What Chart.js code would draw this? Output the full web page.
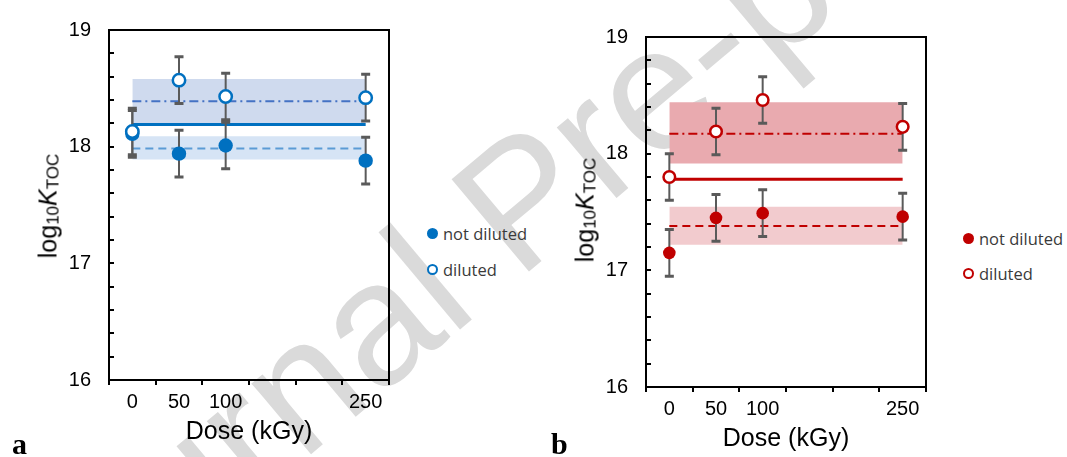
<!DOCTYPE html>
<html>
<head>
<meta charset="utf-8">
<script src="https://cdn.jsdelivr.net/npm/chart.js@4.4.1/dist/chart.umd.min.js"></script>
<style>
  html, body { margin: 0; padding: 0; background: #fff; }
  body { width: 1067px; height: 457px; position: relative; overflow: hidden; font-family: 'Liberation Sans', Arial, sans-serif; }
  .watermark { position: absolute; left: 520px; top: 200px; transform: translate(-50%, -50%) rotate(-40deg); font-size: 175px; color: #dadada; white-space: nowrap; z-index: 0; }
  canvas { position: absolute; z-index: 1; }
  #chartA { left: 0; top: 0; }
  #chartB { left: 537px; top: 7px; }
  .ytitle { position: absolute; z-index: 2; font-size: 25px; white-space: nowrap; color: #000; transform: translate(-50%, -50%) rotate(-90deg); }
  .ytitle sub { font-size: 17px; position: relative; top: 2px; vertical-align: baseline; }
  .legend-row { position: absolute; z-index: 2; height: 20px; display: flex; align-items: center; white-space: nowrap; font-family: 'Open Sans', sans-serif; font-size: 16.5px; color: #3a3a3a; }
  .dot { width: 11px; height: 11px; border-radius: 50%; box-sizing: border-box; margin-right: 5px; }
  .panel { position: absolute; z-index: 2; font-family: 'Liberation Serif', serif; font-weight: bold; font-size: 30px; line-height: 30px; }
</style>
</head>
<body>
<div class="watermark">Journal Pre-proof</div>
<canvas id="chartA" width="420" height="457"></canvas>
<canvas id="chartB" width="420" height="457"></canvas>
<div class="ytitle" style="left:48px; top:206px;">log<sub>10</sub><i>K</i><sub>TOC</sub></div>
<div class="ytitle" style="left:585px; top:210px;">log<sub>10</sub><i>K</i><sub>TOC</sub></div>
<div id="legendA"></div>
<div id="legendB"></div>
<div class="panel" style="left:12px; top:429px;">a</div>
<div class="panel" style="left:551px; top:429px;">b</div>
<script>
const doses = [0, 50, 100, 250];
const xTickMarks = [-25, 25, 75, 125, 175, 225, 275];
const yLabelValues = [16, 17, 18, 19];
const seriesNames = ['not diluted', 'diluted'];

// panel a
const aNotDiluted = [18.11, 17.94, 18.01, 17.88];
const aNotDilutedErr = [0.2, 0.2, 0.2, 0.2];
const aDiluted = [18.13, 18.57, 18.43, 18.42];
const aDilutedErr = [0.2, 0.2, 0.2, 0.2];
const aMeanAll = 18.19;
const aMeanNotDiluted = 17.985;
const aBandNotDiluted = [17.89, 18.09];
const aMeanDiluted = 18.39;
const aBandDiluted = [18.20, 18.58];

// panel b
const bNotDiluted = [17.15, 17.45, 17.49, 17.46];
const bNotDilutedErr = [0.2, 0.2, 0.2, 0.2];
const bDiluted = [17.80, 18.19, 18.46, 18.23];
const bDilutedErr = [0.2, 0.2, 0.2, 0.2];
const bMeanAll = 17.78;
const bMeanNotDiluted = 17.38;
const bBandNotDiluted = [17.22, 17.545];
const bMeanDiluted = 18.17;
const bBandDiluted = [17.915, 18.44];

const pts = vals => doses.map((d, i) => ({x: d, y: vals[i]}));
const flat = v => [{x: doses[0], y: v}, {x: doses[doses.length - 1], y: v}];

const frameAndErrors = {
    id: 'frameAndErrors',
    beforeDatasetsDraw(chart) { chart.$errDrawn = false; },
    beforeDatasetDraw(chart, args) {
        const ds = chart.data.datasets[args.index];
        if (!ds.errors || chart.$errDrawn) return;
        chart.$errDrawn = true;
        const {ctx, scales: {x, y}} = chart;
        ctx.save();
        ctx.strokeStyle = '#5a5a5a';
        chart.data.datasets.forEach(d => {
            if (!d.errors) return;
            d.data.forEach((p, i) => {
                const px = x.getPixelForValue(p.x);
                const top = y.getPixelForValue(p.y + d.errors[i]);
                const bot = y.getPixelForValue(p.y - d.errors[i]);
                ctx.lineWidth = 2;
                ctx.beginPath();
                ctx.moveTo(px, top);
                ctx.lineTo(px, bot);
                ctx.stroke();
                ctx.lineWidth = 3;
                ctx.beginPath();
                ctx.moveTo(px - 4.5, top); ctx.lineTo(px + 4.5, top);
                ctx.moveTo(px - 4.5, bot); ctx.lineTo(px + 4.5, bot);
                ctx.stroke();
            });
        });
        ctx.restore();
    },
    afterDraw(chart) {
        const {ctx, chartArea: a, scales: {y}} = chart;
        ctx.save();
        ctx.strokeStyle = '#000';
        ctx.lineWidth = 2;
        ctx.strokeRect(a.left, a.top, a.right - a.left, a.bottom - a.top);
        ctx.beginPath();
        y.ticks.forEach(t => {
            const py = Math.round(y.getPixelForValue(t.value));
            ctx.moveTo(a.left, py);
            ctx.lineTo(a.left + 5, py);
        });
        ctx.stroke();
        ctx.restore();
    }
};

function makeChart(id, s) {
    return new Chart(document.getElementById(id), {
        type: 'scatter',
        data: {
            datasets: [
                {label: seriesNames[1], data: pts(s.diluted), errors: s.dilutedErr, order: 0,
                 pointRadius: s.openR, pointBorderWidth: 2.5, pointBackgroundColor: '#fff', pointBorderColor: s.color},
                {label: seriesNames[0], data: pts(s.notDiluted), errors: s.notDilutedErr, order: 0,
                 pointRadius: s.fillR, pointBorderWidth: 0, pointBackgroundColor: s.color, pointBorderColor: s.color},
                {data: flat(s.meanAll), showLine: true, pointRadius: 0, borderColor: s.color, borderWidth: 3, order: 1},
                {data: flat(s.meanDiluted), showLine: true, pointRadius: 0, borderColor: s.dashDotColor, borderWidth: 2, borderDash: [9, 4, 2, 4], order: 1},
                {data: flat(s.meanNotDiluted), showLine: true, pointRadius: 0, borderColor: s.dashColor, borderWidth: 2, borderDash: [8, 5], order: 1},
                {data: flat(s.bandDiluted[1]), showLine: true, pointRadius: 0, borderColor: 'rgba(0,0,0,0)', backgroundColor: s.bandUpper, fill: '+1', order: 2},
                {data: flat(s.bandDiluted[0]), showLine: true, pointRadius: 0, borderColor: 'rgba(0,0,0,0)', fill: false, order: 2},
                {data: flat(s.bandNotDiluted[1]), showLine: true, pointRadius: 0, borderColor: 'rgba(0,0,0,0)', backgroundColor: s.bandLower, fill: '+1', order: 2},
                {data: flat(s.bandNotDiluted[0]), showLine: true, pointRadius: 0, borderColor: 'rgba(0,0,0,0)', fill: false, order: 2}
            ]
        },
        options: {
            responsive: false,
            animation: false,
            devicePixelRatio: 1,
            layout: {padding: {left: 0, top: 25, right: 31, bottom: 0}},
            plugins: {legend: {display: false}, tooltip: {enabled: false}},
            scales: {
                x: {
                    type: 'linear', min: -25, max: 275,
                    afterBuildTicks: sc => { sc.ticks = [...xTickMarks, ...doses].sort((p, q) => p - q).map(v => ({value: v})); },
                    afterFit: sc => { sc.height = 77; },
                    border: {display: false},
                    grid: {drawOnChartArea: false, drawTicks: true, tickLength: 5, lineWidth: 2,
                           tickColor: c => (c.tick && doses.includes(c.tick.value)) ? 'rgba(0,0,0,0)' : '#000'},
                    ticks: {autoSkip: false, maxRotation: 0, padding: 5, color: '#000',
                            font: {family: 'Liberation Sans', size: 20},
                            callback: v => doses.includes(v) ? String(v) : ''},
                    title: {display: true, text: 'Dose (kGy)', color: '#000',
                            font: {family: 'Liberation Sans', size: 25}, padding: {top: 0, bottom: 10}}
                },
                y: {
                    min: 16, max: 19,
                    afterFit: sc => { sc.width = 109; },
                    border: {display: false},
                    grid: {display: false, drawTicks: false},
                    ticks: {stepSize: 0.2, autoSkip: false, padding: 18, color: '#000',
                            font: {family: 'Liberation Sans', size: 20},
                            callback: v => {
                                const r = Math.round(v * 10) / 10;
                                return yLabelValues.includes(r) ? String(r) : '';
                            }}
                }
            }
        },
        plugins: [frameAndErrors]
    });
}

function makeLegend(id, color, left, top1, top2) {
    const el = document.getElementById(id);
    const rows = [
        {name: seriesNames[0], top: top1, style: `background:${color};`},
        {name: seriesNames[1], top: top2, style: `background:#fff; border:2px solid ${color};`}
    ];
    el.innerHTML = rows.map(r =>
        `<div class="legend-row" style="left:${left}px; top:${r.top}px;"><span class="dot" style="${r.style}"></span>${r.name}</div>`
    ).join('');
}

makeChart('chartA', {
    diluted: aDiluted, dilutedErr: aDilutedErr, notDiluted: aNotDiluted, notDilutedErr: aNotDilutedErr,
    meanAll: aMeanAll, meanDiluted: aMeanDiluted, meanNotDiluted: aMeanNotDiluted,
    bandDiluted: aBandDiluted, bandNotDiluted: aBandNotDiluted,
    color: '#0070C0', dashDotColor: '#4472C4', dashColor: '#5B9BD5',
    bandUpper: '#CFDAEE', bandLower: '#D6E4F5', openR: 6.2, fillR: 7.2
});
makeChart('chartB', {
    diluted: bDiluted, dilutedErr: bDilutedErr, notDiluted: bNotDiluted, notDilutedErr: bNotDilutedErr,
    meanAll: bMeanAll, meanDiluted: bMeanDiluted, meanNotDiluted: bMeanNotDiluted,
    bandDiluted: bBandDiluted, bandNotDiluted: bBandNotDiluted,
    color: '#C00000', dashDotColor: '#C00000', dashColor: '#C00000',
    bandUpper: '#E9AAAF', bandLower: '#F2CBCE', openR: 5.8, fillR: 6.3
});
makeLegend('legendA', '#0070C0', 427, 223, 259);
makeLegend('legendB', '#C00000', 963, 228, 263);
</script>
</body>
</html>
